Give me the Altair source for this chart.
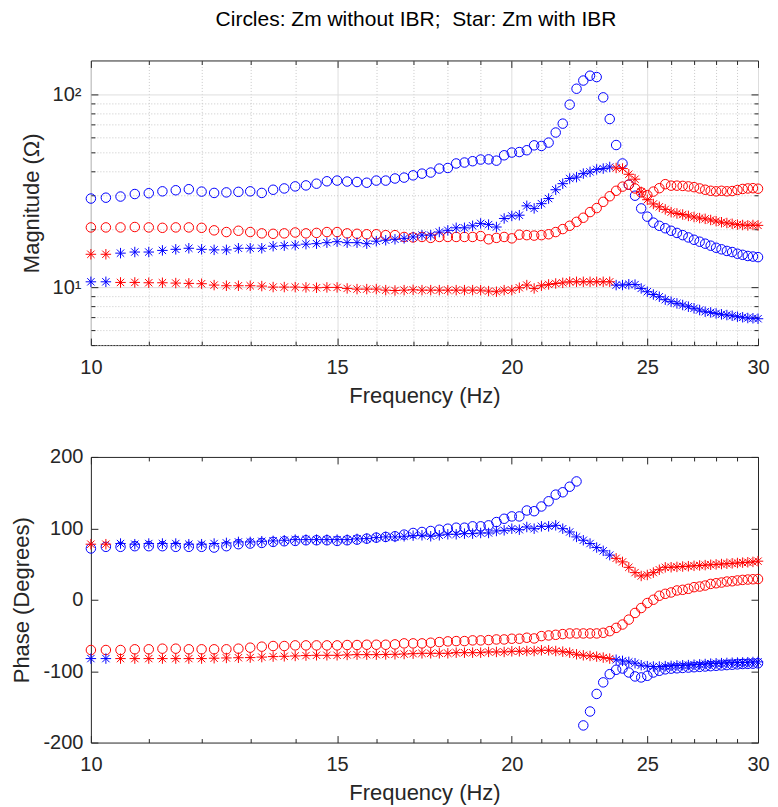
import altair as alt
import pandas as pd

# ---------------- data ----------------
FREQ = [10.0, 10.25, 10.5, 10.75, 11.0, 11.25, 11.5, 11.75, 12.0, 12.25, 12.5, 12.75,
        13.0, 13.25, 13.5, 13.75, 14.0, 14.25, 14.5, 14.75, 15.0, 15.25, 15.5, 15.75,
        16.0, 16.25, 16.5, 16.75, 17.0, 17.25, 17.5, 17.75, 18.0, 18.25, 18.5, 18.75,
        19.0, 19.25, 19.5, 19.75, 20.0, 20.25, 20.5, 20.75, 21.0, 21.25, 21.5, 21.75,
        22.0, 22.25, 22.5, 22.75, 23.0, 23.25, 23.5, 23.75, 24.0, 24.25, 24.5, 24.75,
        25.0, 25.25, 25.5, 25.75, 26.0, 26.25, 26.5, 26.75, 27.0, 27.25, 27.5, 27.75,
        28.0, 28.25, 28.5, 28.75, 29.0, 29.25, 29.5, 29.75, 30.0]

# Magnitude (Ohm)
MAG_CIRCLE_BLUE = [28.8, 29.1, 29.5, 30.4, 30.7, 31.4, 31.8, 32.2, 31.3, 30.8, 31.0, 31.2,
                   31.4, 30.8, 32.0, 32.5, 33.3, 33.7, 34.4, 35.4, 35.7, 35.3, 35.1, 34.8,
                   35.7, 35.7, 36.6, 37.0, 38.0,
                   38.8, 39.3, 41.2, 41.5, 43.8, 44.3, 45.0, 45.9, 46.0, 45.3,
                   48.3, 49.9, 50.2, 51.3, 54.4, 54.0, 56.2, 63.4, 70.5, 88.5,
                   107, 118, 125, 123, 96.5, 74.5, 54.6, 43.8, 34.0, 29.8,
                   25.6, 23.2, 21.6, 20.8, 20.2, 19.6, 19.1, 18.6, 18.1, 17.6,
                   17.2, 16.8, 16.4, 16.0, 15.7, 15.4, 15.2, 14.9, 14.7, 14.5,
                   14.4, 14.3]
MAG_CIRCLE_RED = [20.4, 20.4, 20.4, 20.5, 20.4, 20.3, 20.4, 20.4, 20.3, 19.7, 19.3, 19.6,
                  19.3, 19.0, 18.9, 19.0, 19.2, 19.0, 19.1, 19.3, 19.3, 19.0, 18.9, 18.8,
                  18.8, 18.6, 18.6, 18.2, 18.1,
                  18.2, 18.0, 18.2, 18.2, 18.2, 18.2, 18.2, 18.4, 17.7, 18.0,
                  18.2, 17.9, 18.7, 18.6, 18.5, 18.6, 18.8, 19.3, 20.0, 20.8,
                  21.8, 22.9, 24.5, 25.7, 27.7, 29.6, 31.6, 33.2, 34.0, 32.5,
                  31.0, 30.0, 31.3, 32.6, 34.2, 33.6, 33.6, 33.5, 33.3, 33.0,
                  32.5, 32.0, 31.6, 31.4, 31.6, 31.4, 31.5, 31.9, 32.3, 32.5,
                  32.6, 32.4]
MAG_STAR_UPPER = [14.8, 14.8, 15.0, 15.2, 15.2, 15.5, 15.7, 15.9, 15.7, 15.6, 15.6, 15.9,
                  15.9, 15.9, 16.3, 16.4, 16.5, 16.7, 16.8, 17.0, 17.2, 17.0, 17.0, 16.8,
                  17.3, 17.5, 17.7, 17.9, 18.2,
                  18.6, 18.6, 19.3, 19.7, 20.3, 20.3, 20.8, 21.4, 21.1, 20.5,
                  22.7, 23.4, 23.6, 26.4, 25.6, 27.1, 28.8, 32.0, 34.4, 36.6,
                  37.2, 38.8, 39.6, 40.8, 41.2, 42.0, 41.5, 41.2, 38.5, 36.3,
                  31.2, 28.4, 27.0, 26.1, 25.3, 24.5, 24.1, 23.8, 23.4, 23.1,
                  22.8, 22.6, 22.3, 22.0, 21.7, 21.5, 21.3, 21.1, 21.0, 20.9,
                  21.0, 20.9]
MAG_STAR_LOWER = [10.65, 10.65, 10.57, 10.57, 10.53, 10.53, 10.49, 10.45, 10.41, 10.24,
                  10.16, 10.16, 10.16, 10.12, 10.0, 10.0, 10.0, 9.96, 9.92, 9.96, 9.96,
                  9.84, 9.76, 9.76, 9.76, 9.64, 9.6, 9.64, 9.68,
                  9.64, 9.64, 9.64, 9.64, 9.64, 9.64, 9.64, 9.64, 9.53, 9.46,
                  9.64, 9.64, 9.92, 10.24, 9.84, 10.16, 10.32, 10.44, 10.52, 10.65,
                  10.65, 10.65, 10.65, 10.65, 10.65, 10.65, 10.24, 10.24, 10.34, 10.3,
                  9.84, 9.46, 9.15, 8.91, 8.6, 8.40, 8.23, 8.07, 7.91, 7.76,
                  7.60, 7.45, 7.39, 7.30, 7.22, 7.16, 7.10, 7.02, 6.97, 6.91,
                  6.89, 6.85]

# Phase (degrees)
PH_CIRCLE_BLUE = [71.8, 74.1, 74.1, 75.0, 75.0, 75.0, 74.1, 74.1, 74.1, 73.1, 75.0, 77.8,
                  78.7, 79.6, 81.0, 81.9, 82.4, 83.3, 83.3, 83.3, 82.4, 83.3, 84.2, 85.6,
                  87.0, 88.0, 88.9, 91.2, 93.5,
                  94.9, 96.3, 98.1, 99.5, 100.9, 100.9, 102.8, 102.8, 104.2, 108.8,
                  113.4, 116.7, 116.7, 125.0, 124.0, 130.6, 137.9, 147.2, 150.5, 158.3,
                  165.7, -176.0, -156.5, -131.9, -115.7, -104.2, -98.1, -96.3, -101.9, -107.4,
                  -108.8, -106.5, -101.9, -99.5, -97.5, -96.5, -96.0, -95.5, -95.0, -94.5,
                  -94.0, -93.5, -93.0, -92.5, -92.0, -91.5, -91.0, -90.5, -90.0, -89.8,
                  -89.5, -89.0]
PH_CIRCLE_RED = [-70.4, -70.4, -70.4, -69.4, -69.4, -68.5, -68.5, -69.4, -69.4, -69.4,
                 -69.4, -68.5, -67.1, -65.7, -64.8, -64.8, -63.9, -63.9, -63.9, -63.9,
                 -63.9, -63.4, -63.4, -63.0, -63.0, -63.0, -62.5, -61.1, -61.1,
                 -61.1, -60.2, -59.3, -58.3, -57.9, -57.9, -56.9, -56.9, -56.5, -55.6,
                 -55.6, -54.6, -54.6, -53.2, -54.2, -50.9, -50.0, -49.1, -48.1, -47.2,
                 -47.2, -47.2, -47.2, -47.2, -46.3, -44.0, -39.4, -34.7, -27.8, -18.5,
                 -11.6, -4.6, 0.0, 5.6, 8.3, 10.2, 13.0, 13.9, 15.3, 17.6,
                 18.5, 19.9, 22.2, 23.1, 24.1, 25.5, 25.9, 27.0, 27.8, 28.3,
                 28.7, 29.0]
PH_STAR_UPPER = [77.8, 77.8, 78.7, 77.8, 78.7, 78.7, 78.7, 77.8, 77.8, 78.7, 79.6, 81.0,
                 81.0, 81.9, 82.4, 83.3, 84.2, 84.2, 84.2, 84.2, 84.2, 84.2, 85.2, 85.6,
                 87.0, 88.0, 88.0, 88.9, 89.8,
                 90.3, 88.9, 90.3, 91.7, 91.7, 92.6, 92.6, 93.5, 93.5, 96.3,
                 97.2, 99.5, 98.1, 101.9, 99.5, 102.8, 102.8, 104.2, 99.5, 94.9,
                 88.0, 83.3, 78.7, 73.1, 68.5, 62.5, 58.0, 53.0, 45.4, 38.0,
                 33.3, 34.7, 38.0, 42.0, 45.4, 45.5, 46.0, 46.5, 47.0, 47.5,
                 48.0, 48.5, 49.0, 49.5, 50.0, 50.5, 51.0, 51.5, 52.0, 52.5,
                 53.0, 54.0]
PH_STAR_LOWER = [-82.4, -82.4, -82.4, -82.4, -82.4, -82.4, -82.4, -82.4, -82.4, -81.9,
                 -81.5, -81.2, -81.0, -80.3, -79.6, -79.2, -78.7, -78.2, -77.8, -77.8,
                 -77.8, -77.3, -76.9, -76.9, -76.9, -76.6, -76.4, -76.0, -75.5,
                 -75.0, -75.0, -75.0, -75.0, -74.1, -74.1, -74.1, -74.1, -73.1, -73.1,
                 -73.1, -72.2, -72.2, -71.8, -71.8, -70.8, -70.8, -71.8, -72.7, -74.1,
                 -76.4, -77.8, -78.7, -79.6, -81.0, -82.4, -84.0, -85.6, -87.0, -88.9,
                 -91.7, -93.0, -93.5, -93.5, -93.0, -92.6, -92.0, -91.7, -91.5, -91.0,
                 -90.5, -90.0, -89.5, -89.0, -88.8, -88.5, -88.2, -88.0, -87.8, -87.5,
                 -87.2, -87.0]

# colour of the star that sits on the upper star curve (the other star is the other colour)
UPPER_STAR_COLOR = ["r"] * 2 + ["b"] * 53 + ["r"] * 26

TITLE = "Circles: Zm without IBR;\u00a0 Star: Zm with IBR"
X_MAJOR = [10, 15, 20, 25, 30]
X_MINOR = [11, 12, 13, 14, 16, 17, 18, 19, 21, 22, 23, 24, 26, 27, 28, 29]
MAG_MAJOR = [10, 100]
MAG_MINOR = [5, 6, 7, 8, 9, 20, 30, 40, 50, 60, 70, 80, 90]
PH_MAJOR = [-200, -100, 0, 100, 200]

for arr in (MAG_CIRCLE_BLUE, MAG_CIRCLE_RED, MAG_STAR_UPPER, MAG_STAR_LOWER,
            PH_CIRCLE_BLUE, PH_CIRCLE_RED, PH_STAR_UPPER, PH_STAR_LOWER, UPPER_STAR_COLOR):
    assert len(arr) == len(FREQ), len(arr)

# ---------------- style ----------------
FONT = "Liberation Sans"
AX = "#262626"
BLUE = "#0000ff"
RED = "#ff0000"
MAJ_GRID = "#dedede"
MIN_GRID = "#c8c8c8"
STAR = "M0,-1L0,1M-1,0L1,0M-0.7,-0.7L0.7,0.7M-0.7,0.7L0.7,-0.7"
LABEL_FS = 20
TITLE_FS = 22
PLOT_W = 668


def build_df(c_blue, c_red, s_up, s_lo):
    rows = []
    for i, f in enumerate(FREQ):
        rows.append({"f": f, "v": c_blue[i], "k": "bo"})
        rows.append({"f": f, "v": c_red[i], "k": "ro"})
        up = UPPER_STAR_COLOR[i]
        lo = "r" if up == "b" else "b"
        rows.append({"f": f, "v": s_up[i], "k": up + "*"})
        rows.append({"f": f, "v": s_lo[i], "k": lo + "*"})
    return pd.DataFrame(rows)


def tick_axis(orient, values, size):
    return alt.Axis(orient=orient, values=values, offset=-size, tickSize=size,
                    ticks=True, labels=False, domain=False, grid=False,
                    tickColor=AX, tickWidth=1, title=None)


def grid_axis(orient, values, color, dash):
    kw = dict(orient=orient, values=values, ticks=False, labels=False, domain=False,
              grid=True, gridColor=color, gridWidth=1, title=None)
    if dash:
        kw["gridDash"] = dash
    return alt.Axis(**kw)


def panel(df, yscale, x_axes, y_axes, height):
    xs = alt.Scale(type="log", domain=[10, 30], nice=False)
    specs = [("bo", "circle", BLUE, 1), ("ro", "circle", RED, 1),
             ("b*", STAR, BLUE, 1), ("r*", STAR, RED, 1)]
    n = max(len(x_axes), len(y_axes))
    layers = []
    for j in range(n):
        if j < len(specs):
            k, shape, col, op = specs[j]
        else:
            k, shape, col, op = "bo", "circle", BLUE, 0
        xa = x_axes[j] if j < len(x_axes) else None
        ya = y_axes[j] if j < len(y_axes) else None
        size = 90 if shape == "circle" else 110
        layer = alt.Chart(df).transform_filter(alt.datum.k == k).mark_point(
            shape=shape, filled=False, size=size, strokeWidth=1, color=col, opacity=op
        ).encode(
            x=alt.X("f:Q", scale=xs, axis=xa),
            y=alt.Y("v:Q", scale=yscale, axis=ya),
        )
        layers.append(layer)
    return alt.layer(*layers).resolve_scale(x="shared", y="shared").resolve_axis(
        x="independent", y="independent").properties(width=PLOT_W, height=height)


def x_label_axis(grid):
    kw = dict(orient="bottom", values=X_MAJOR, labelExpr="datum.value + ''",
              labelFlush=False, labelOverlap=False, ticks=False, tickSize=0,
              domain=False, grid=grid, labelPadding=12, labelFontSize=LABEL_FS,
              labelColor=AX, labelFont=FONT, title="Frequency (Hz)",
              titleFontSize=TITLE_FS, titleFontWeight="normal", titleColor=AX,
              titleFont=FONT, titlePadding=8)
    if grid:
        kw["gridColor"] = MAJ_GRID
    return alt.Axis(**kw)


# top panel: magnitude
mag_df = build_df(MAG_CIRCLE_BLUE, MAG_CIRCLE_RED, MAG_STAR_UPPER, MAG_STAR_LOWER)
mag_x = [x_label_axis(True),
         grid_axis("bottom", X_MINOR, MIN_GRID, [1, 2]),
         tick_axis("bottom", X_MAJOR, 7), tick_axis("bottom", X_MINOR, 4),
         tick_axis("top", X_MAJOR, 7), tick_axis("top", X_MINOR, 4)]
mag_y = [alt.Axis(orient="left", values=MAG_MAJOR,
                  labelExpr="datum.value == 10 ? '10\u00b9' : '10\u00b2'",
                  ticks=False, tickSize=0, domain=False, grid=True, gridColor=MAJ_GRID,
                  labelPadding=10, labelFontSize=LABEL_FS, labelColor=AX, labelFont=FONT,
                  title="Magnitude (\u03a9)", titleFontSize=TITLE_FS,
                  titleFontWeight="normal", titleColor=AX, titleFont=FONT, titlePadding=9),
         grid_axis("left", MAG_MINOR, MIN_GRID, [1, 2]),
         tick_axis("left", MAG_MAJOR, 7), tick_axis("left", MAG_MINOR, 4),
         tick_axis("right", MAG_MAJOR, 7), tick_axis("right", MAG_MINOR, 4)]
top = panel(mag_df, alt.Scale(type="log", domain=[5, 150], nice=False), mag_x, mag_y, 285)

# bottom panel: phase
ph_df = build_df(PH_CIRCLE_BLUE, PH_CIRCLE_RED, PH_STAR_UPPER, PH_STAR_LOWER)
ph_x = [x_label_axis(False),
        tick_axis("bottom", X_MAJOR, 7), tick_axis("bottom", X_MINOR, 4),
        tick_axis("top", X_MAJOR, 7), tick_axis("top", X_MINOR, 4)]
ph_y = [alt.Axis(orient="left", values=PH_MAJOR, labelExpr="datum.value + ''",
                 ticks=False, tickSize=0, domain=False, grid=False,
                 labelPadding=8, labelFontSize=LABEL_FS, labelColor=AX, labelFont=FONT,
                 title="Phase (Degrees)", titleFontSize=TITLE_FS,
                 titleFontWeight="normal", titleColor=AX, titleFont=FONT, titlePadding=9),
        tick_axis("left", PH_MAJOR, 7), tick_axis("right", PH_MAJOR, 7)]
bottom = panel(ph_df, alt.Scale(domain=[-200, 200], nice=False), ph_x, ph_y, 286)

chart = alt.vconcat(
    top, bottom, spacing=39,
    title=alt.TitleParams(TITLE, fontSize=21, font=FONT, fontWeight="normal",
                          color="black", anchor="middle", offset=29, dx=26),
).properties(
    padding={"left": 2, "top": 1, "right": 0, "bottom": 0}
).configure_view(stroke=AX, strokeWidth=1)

chart.save("out.html", embed_options={"renderer": "svg", "actions": False})
